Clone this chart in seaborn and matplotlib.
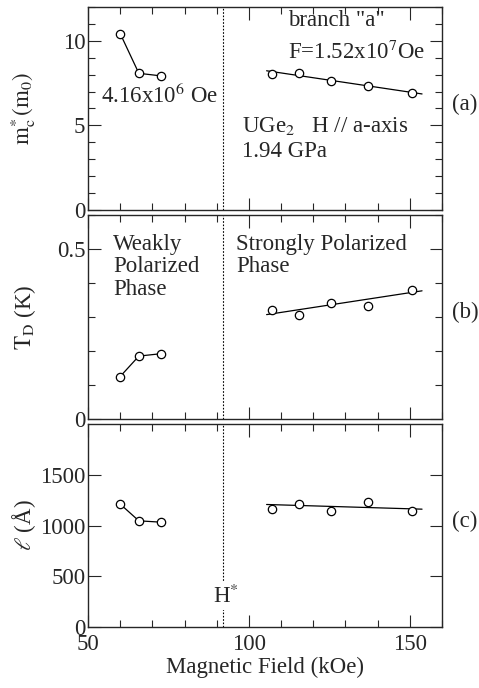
import matplotlib
matplotlib.use("Agg")
import matplotlib.pyplot as plt
from matplotlib.ticker import MultipleLocator, NullLocator, FuncFormatter
import seaborn as sns

# field values (kOe)
field_weak = [60.0, 65.8, 72.6]
field_strong = [107.2, 115.6, 125.4, 137.0, 150.8]
fit_field = [105.5, 153.8]

# (a) cyclotron mass, m0
mass_weak = [10.43, 8.08, 7.93]
mass_strong = [8.04, 8.12, 7.65, 7.33, 6.94]
mass_fit = [8.23, 6.86]

# (b) Dingle temperature, K
dingle_weak = [0.125, 0.185, 0.192]
dingle_strong = [0.321, 0.305, 0.342, 0.333, 0.378]
dingle_fit = [0.307, 0.377]

# (c) mean free path, Angstrom
mfp_weak = [1211, 1046, 1033]
mfp_strong = [1161, 1214, 1145, 1230, 1142]
mfp_fit = [1207, 1161]

h_star = 91.8

sns.set_style("ticks")
plt.rcParams["font.family"] = ["Liberation Serif", "DejaVu Serif"]
plt.rcParams["mathtext.fontset"] = "stix"
FS = 16.5

fig = plt.figure(figsize=(4.79, 6.88), dpi=100)
left, width = 88 / 479, (442 - 88) / 479
boxes = [(7, 210), (215, 419), (424, 627)]
axes = []
for top, bottom in boxes:
    ax = fig.add_axes([left, 1 - bottom / 688, width, (bottom - top) / 688])
    axes.append(ax)

panels = [
    (mass_weak, mass_strong, mass_fit, (0, 12), [0, 5, 10], 1,
     r"$\mathrm{m}_\mathrm{c}^{*}\,(\mathrm{m}_0)$", "(a)"),
    (dingle_weak, dingle_strong, dingle_fit, (0, 0.6), [0, 0.5], 0.1,
     r"$\mathrm{T}_\mathrm{D}$ (K)", "(b)"),
    (mfp_weak, mfp_strong, mfp_fit, (0, 2000), [0, 500, 1000, 1500], None,
     r"$\ell$ (Å)", "(c)"),
]

for ax, (weak, strong, fit, ylim, yticks, minor, ylabel, tag) in zip(axes, panels):
    sns.lineplot(x=field_weak, y=weak, ax=ax, color="black", lw=0.9, marker="o",
                 markersize=6, markerfacecolor="white", markeredgecolor="black",
                 markeredgewidth=0.9, zorder=3)
    sns.lineplot(x=fit_field, y=fit, ax=ax, color="black", lw=0.9, zorder=2)
    sns.scatterplot(x=field_strong, y=strong, ax=ax, s=36, facecolor="white",
                    edgecolor="black", linewidth=0.9, zorder=4)
    ax.axvline(h_star, color="black", lw=0.8, ls=(0, (1.5, 1.5)), zorder=1)

    ax.set_xlim(50, 160)
    ax.set_ylim(*ylim)
    ax.xaxis.set_major_locator(MultipleLocator(50))
    ax.xaxis.set_minor_locator(MultipleLocator(10))
    ax.set_yticks(yticks)
    ax.yaxis.set_major_formatter(FuncFormatter(lambda v, p: f"{v:g}"))
    if minor:
        ax.yaxis.set_minor_locator(MultipleLocator(minor))
    else:
        ax.yaxis.set_minor_locator(NullLocator())
    ax.tick_params(which="both", direction="in", top=True, right=True,
                   labelsize=FS, width=0.8, pad=2)
    ax.tick_params(axis="x", pad=5)
    ax.tick_params(which="major", length=9)
    ax.tick_params(which="minor", length=5)
    for sp in ax.spines.values():
        sp.set_linewidth(1.0)
        sp.set_visible(True)
    ax.set_ylabel(ylabel, fontsize=FS)
    ax.yaxis.set_label_coords(-0.142, 0.5)
    ax.text(1.027, 0.52, tag, transform=ax.transAxes, fontsize=FS,
            ha="left", va="center")

ax_a, ax_b, ax_c = axes
ax_a.tick_params(labelbottom=False)
ax_b.tick_params(labelbottom=False)

ax_a.text(112.1, 10.85, 'branch "a"', fontsize=FS, ha="left", va="baseline")
ax_a.text(112.1, 8.95, r"F=1.52x10$^{7}$Oe", fontsize=FS, ha="left", va="baseline")
ax_a.text(54.0, 6.34, r"4.16x10$^{6}$ Oe", fontsize=FS, ha="left", va="baseline")
ax_a.text(97.7, 4.64, r"UGe$_2$   H // a-axis", fontsize=FS, ha="left", va="baseline")
ax_a.text(97.7, 3.16, "1.94 GPa", fontsize=FS, ha="left", va="baseline")

for label, yb in zip(["Weakly", "Polarized", "Phase"], [0.497, 0.432, 0.366]):
    ax_b.text(57.9, yb, label, fontsize=FS, ha="left", va="baseline")
for label, yb in zip(["Strongly Polarized", "Phase"], [0.497, 0.432]):
    ax_b.text(96.0, yb, label, fontsize=FS, ha="left", va="baseline")

ax_c.text(88.9, 239, r"H$^{*}$", fontsize=FS, ha="left", va="baseline", zorder=5,
          bbox=dict(facecolor="white", edgecolor="none", pad=2))
ax_c.set_xlabel("Magnetic Field (kOe)", fontsize=FS, labelpad=1)

fig.savefig("out.png", dpi=100)
